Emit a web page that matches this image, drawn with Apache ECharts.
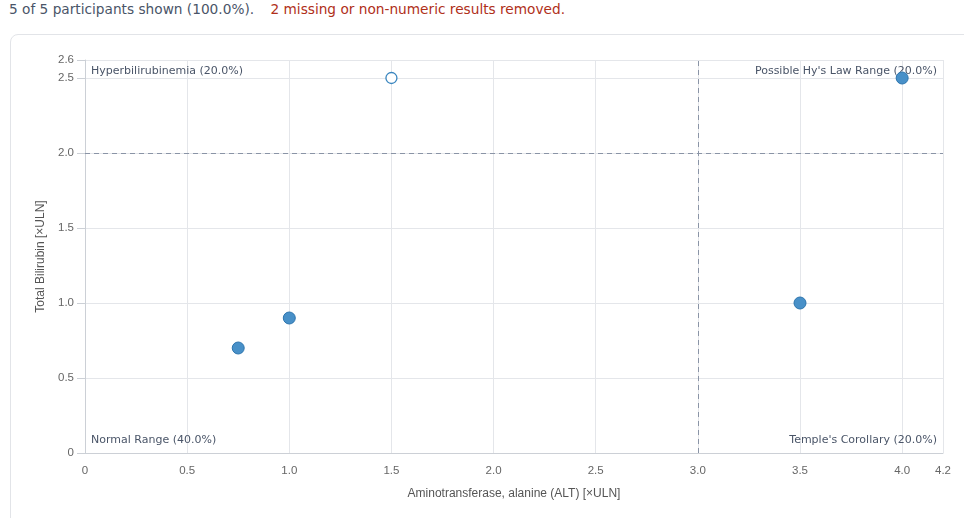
<!DOCTYPE html>
<html>
<head>
<meta charset="utf-8">
<script src="https://cdn.jsdelivr.net/npm/echarts@6/dist/echarts.min.js"></script>
<style>
  html, body { margin: 0; padding: 0; background: #fff; }
  body { width: 964px; height: 518px; position: relative; overflow: hidden; font-family: 'DejaVu Sans', sans-serif; }
  .head { position: absolute; left: 9px; top: 0; font-size: 13.7px; line-height: 18px; color: #4a5568; white-space: nowrap; }
  .head .warn { color: #b0301a; margin-left: 12px; }
  .card { position: absolute; left: 10px; top: 34px; width: 980px; height: 500px; border: 1px solid #e2e4e8; border-radius: 8px; }
  #main { position: absolute; left: 0; top: 0; width: 964px; height: 518px; }
</style>
</head>
<body>
<div class="head">5 of 5 participants shown (100.0%). <span class="warn">2 missing or non-numeric results removed.</span></div>
<div class="card"></div>
<div id="main"></div>
<script>
// ALT (x) and bilirubin (y), both in ×ULN
const filledPoints = [[0.75, 0.7], [1.0, 0.9], [3.5, 1.0], [4.0, 2.5]]
const openPoints = [[1.5, 2.5]]
const xTickLabels = [0, 0.5, 1.0, 1.5, 2.0, 2.5, 3.0, 3.5, 4.0, 4.2]
const yTickLabels = [0, 0.5, 1.0, 1.5, 2.0, 2.5, 2.62]
const altLimit = 3
const biliLimit = 2
const quadrants = [
  'Hyperbilirubinemia (20.0%)',
  "Possible Hy's Law Range (20.0%)",
  'Normal Range (40.0%)',
  "Temple's Corollary (20.0%)"
]

const fmt = v => (v === 0 ? '0' : v.toFixed(1))
const labelFont = { fill: '#4a5568', fontSize: 11, fontFamily: 'DejaVu Sans' }

const chart = echarts.init(document.getElementById('main'))
chart.setOption({
  animation: false,
  grid: { left: 85, right: 21, top: 60, bottom: 65, containLabel: false },
  xAxis: {
    type: 'value',
    min: 0,
    max: 4.2,
    interval: 0.5,
    name: 'Aminotransferase, alanine (ALT) [×ULN]',
    nameLocation: 'middle',
    nameGap: 35,
    nameTextStyle: { color: '#555', fontSize: 12, fontFamily: 'Liberation Sans' },
    axisLine: { show: true, lineStyle: { color: '#ccd0d6' } },
    axisTick: { show: false },
    axisLabel: {
      color: '#666', fontSize: 11.5, margin: 12,
      customValues: xTickLabels, formatter: fmt
    },
    splitLine: { show: true, lineStyle: { color: '#e4e6ea' } }
  },
  yAxis: {
    type: 'value',
    min: 0,
    max: 2.62,
    interval: 0.5,
    name: 'Total Bilirubin [×ULN]',
    nameLocation: 'middle',
    nameGap: 28,
    nameTextStyle: { color: '#555', fontSize: 12, fontFamily: 'Liberation Sans' },
    axisLine: { show: true, lineStyle: { color: '#ccd0d6' } },
    axisTick: { show: true, length: 8, customValues: yTickLabels, lineStyle: { color: '#ccd0d6' } },
    axisLabel: {
      color: '#666', fontSize: 11.5, margin: 11,
      customValues: yTickLabels, formatter: fmt
    },
    splitLine: { show: true, lineStyle: { color: '#e4e6ea' } }
  },
  series: [
    {
      type: 'scatter',
      data: filledPoints,
      symbolSize: 12,
      z: 3,
      itemStyle: { color: '#4890c8', borderColor: '#2c74ad', borderWidth: 1, opacity: 1 },
      markLine: {
        silent: true,
        symbol: 'none',
        label: { show: false },
        lineStyle: { color: '#8a94a6', type: [5, 4], width: 1 },
        data: [{ xAxis: altLimit }, { yAxis: biliLimit }]
      }
    },
    {
      type: 'scatter',
      data: openPoints,
      symbolSize: 11,
      z: 3,
      itemStyle: { color: '#fff', borderColor: '#3a86bf', borderWidth: 1.3, opacity: 1 }
    }
  ],
  graphic: [
    { type: 'text', z: 2, left: 91, top: 66, style: Object.assign({ text: quadrants[0] }, labelFont) },
    { type: 'text', z: 2, right: 27, top: 66, style: Object.assign({ text: quadrants[1] }, labelFont) },
    { type: 'text', z: 2, left: 91, top: 435, style: Object.assign({ text: quadrants[2] }, labelFont) },
    { type: 'text', z: 2, right: 27, top: 435, style: Object.assign({ text: quadrants[3] }, labelFont) }
  ]
})
</script>
</body>
</html>
